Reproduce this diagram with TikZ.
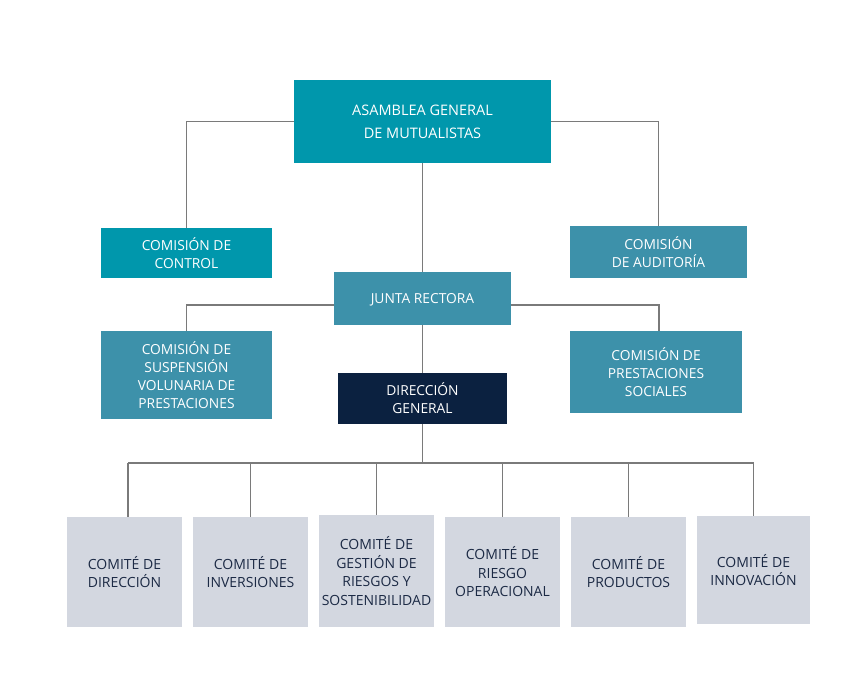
\documentclass[tikz,border=0pt]{standalone}
\usepackage{fontspec}
\setmainfont{Open Sans}
\definecolor{teal1}{HTML}{0097AC}
\definecolor{teal2}{HTML}{3D91AA}
\definecolor{navy}{HTML}{0B2140}
\definecolor{boxgrey}{HTML}{D3D7E0}
\definecolor{txtnavy}{HTML}{1C2A45}
\definecolor{linegrey}{HTML}{7A7A7A}
\begin{document}
\begin{tikzpicture}[x=1pt,y=-1pt,
  box/.style={inner sep=0pt, align=center, text=white, font=\fontsize{13.8}{18}\selectfont},
  tbox/.style={box, fill=teal1},
  gbox/.style={box, fill=teal2},
  nbox/.style={box, fill=navy},
  cbox/.style={box, fill=boxgrey, text=txtnavy, minimum width=115pt, minimum height=110pt, font=\fontsize{14}{18.5}\selectfont},
  conn/.style={draw=linegrey, line width=1.1pt}]
\fill[white] (0,0) rectangle (868,697);
\useasboundingbox (0,0) rectangle (868,697);

\node[tbox, minimum width=257pt, minimum height=83pt, font=\fontsize{14.5}{23}\selectfont] (asam) at (422.5,121.5) {ASAMBLEA GENERAL\\DE MUTUALISTAS};
\node[tbox, minimum width=171pt, minimum height=50pt] (control) at (186.5,253) {COMISIÓN DE\\CONTROL};
\node[gbox, minimum width=177pt, minimum height=52pt] (audit) at (658.5,252) {COMISIÓN\\DE AUDITORÍA};
\node[gbox, minimum width=177pt, minimum height=53pt, text depth=0pt] (junta) at (422.5,298.5) {JUNTA RECTORA};
\node[gbox, minimum width=171pt, minimum height=88pt] (susp) at (186.5,375) {COMISIÓN DE\\SUSPENSIÓN\\VOLUNARIA DE\\PRESTACIONES};
\node[gbox, minimum width=172pt, minimum height=82pt] (prest) at (656,372) {COMISIÓN DE\\PRESTACIONES\\SOCIALES};
\node[nbox, minimum width=169pt, minimum height=51pt] (dir) at (422.5,398.5) {DIRECCIÓN\\GENERAL};

\node[cbox] (c1) at (124.5,572) {COMITÉ DE\\DIRECCIÓN};
\node[cbox] (c2) at (250.5,572) {COMITÉ DE\\INVERSIONES};
\node[cbox, minimum height=112pt] (c3) at (376.5,571) {COMITÉ DE\\GESTIÓN DE\\RIESGOS Y\\SOSTENIBILIDAD};
\node[cbox] (c4) at (502.5,572) {COMITÉ DE\\RIESGO\\OPERACIONAL};
\node[cbox] (c5) at (628.5,572) {COMITÉ DE\\PRODUCTOS};
\node[cbox, minimum width=113pt, minimum height=108pt] (c6) at (753.5,570) {COMITÉ DE\\INNOVACIÓN};

\coordinate (bus) at (422.5,463);

\draw[conn] (asam.west) -| (control.north);
\draw[conn] (asam.east) -| (audit.north);
\draw[conn] (asam.south) -- (junta.north);
\draw[conn] ([yshift=-6.5pt]junta.west) -| (susp.north);
\draw[conn] ([yshift=-6.5pt]junta.east) -| ([xshift=3pt]prest.north);
\draw[conn] (junta.south) -- (dir.north);
\draw[conn] (dir.south) -- (bus);
\draw[conn] ([xshift=3.5pt]c1.north |- bus) -- (c6.north |- bus);
\draw[conn] ([xshift=3.5pt]c1.north) -- ([xshift=3.5pt]c1.north |- bus);
\foreach \i in {2,...,6} \draw[conn] (c\i.north) -- (c\i.north |- bus);
\end{tikzpicture}
\end{document}
